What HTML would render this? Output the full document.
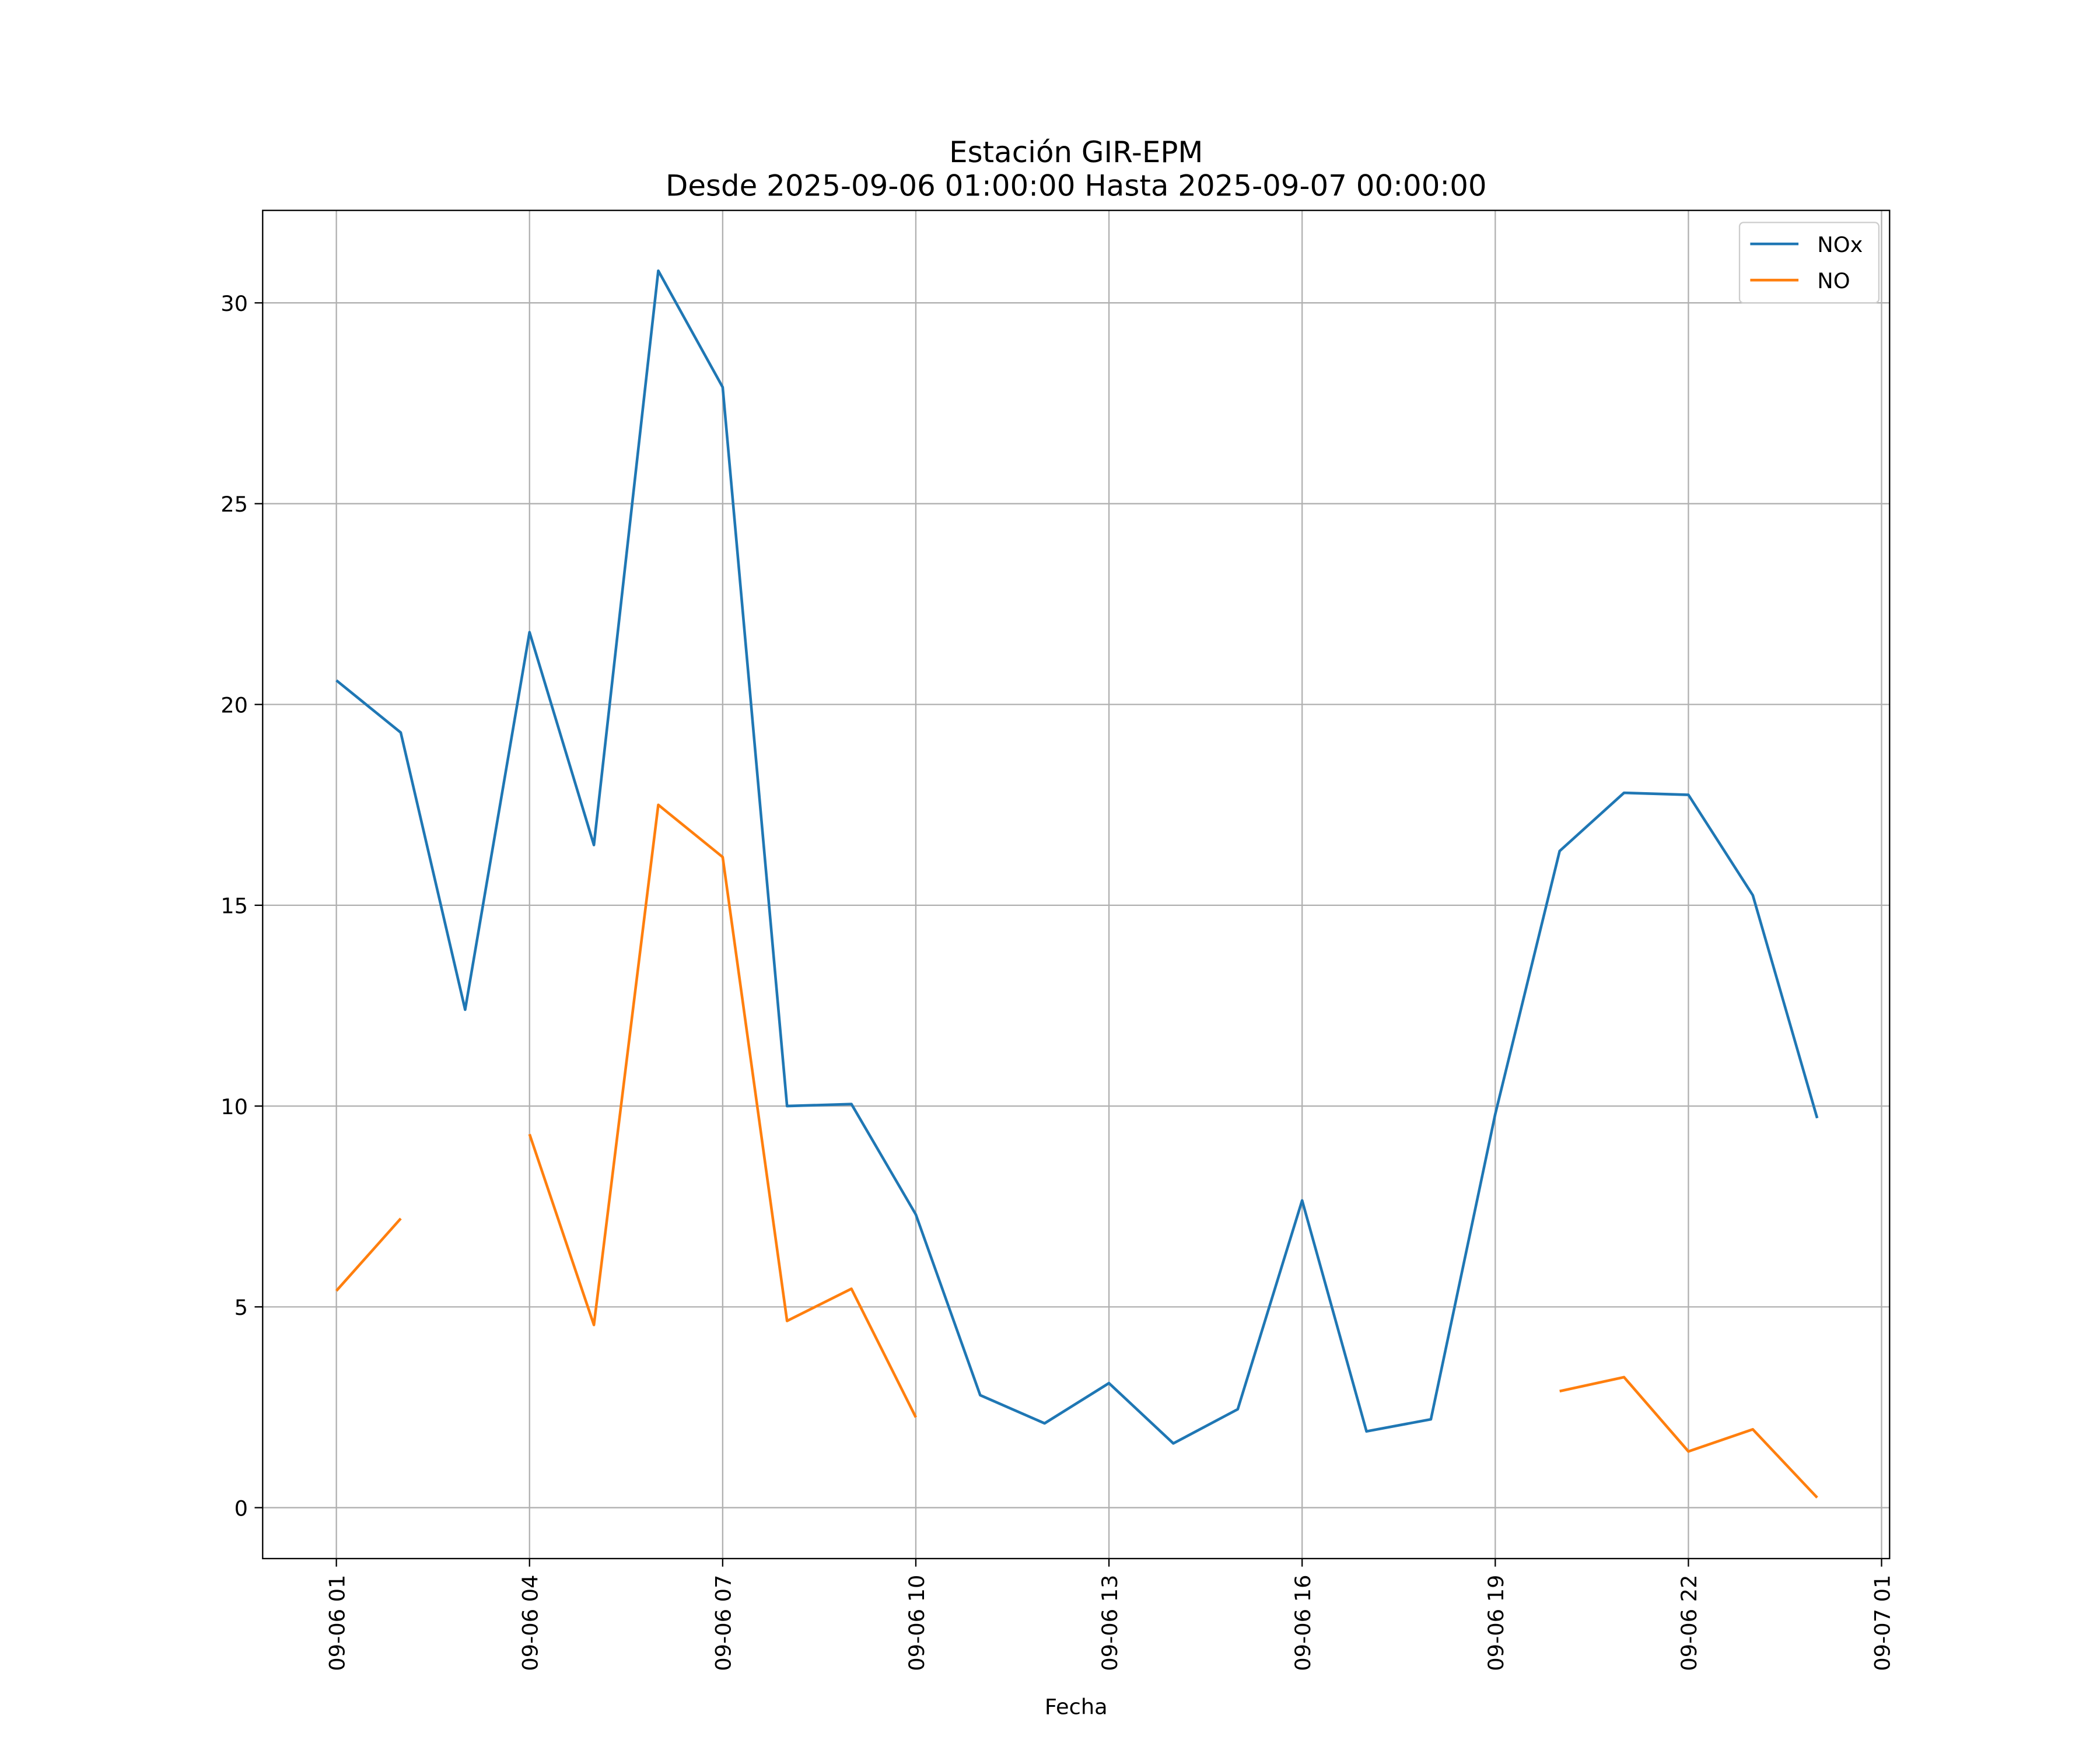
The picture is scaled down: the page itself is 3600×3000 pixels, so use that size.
<!DOCTYPE html>
<html><head><meta charset="utf-8">
<style>
html,body{margin:0;padding:0;background:#fff;}
svg{display:block;}
text{font-family:"DejaVu Sans","Liberation Sans",sans-serif;fill:#000;}
</style></head>
<body>
<svg id="chart" width="3600" height="3000" viewBox="0 0 1567 1305.83" preserveAspectRatio="none" xmlns="http://www.w3.org/2000/svg">
<rect x="0" y="0" width="1567" height="1306" fill="#fff"/>
<g id="grid"></g>
<g id="series"></g>
<rect x="196" y="157" width="1214" height="1006" fill="none" stroke="#000" stroke-width="1"/>
<g id="ticks"></g>
<text x="803" y="121" font-size="21.7" text-anchor="middle">Estación GIR-EPM</text>
<text x="803" y="146" font-size="21.7" text-anchor="middle">Desde 2025-09-06 01:00:00 Hasta 2025-09-07 00:00:00</text>
<text x="803" y="1279" font-size="16" text-anchor="middle">Fecha</text>
<g>
<rect x="1298" y="166" width="104" height="60" rx="3" fill="#fff" stroke="#ccc" stroke-width="1"/>
<line x1="1306" y1="182" x2="1342" y2="182" stroke="#1f77b4" stroke-width="2"/>
<text x="1356" y="188" font-size="16">NOx</text>
<line x1="1306" y1="209" x2="1342" y2="209" stroke="#ff7f0e" stroke-width="2"/>
<text x="1356" y="215" font-size="16">NO</text>
</g>
</svg>
<script>
const hours = [1,2,3,4,5,6,7,8,9,10,11,12,13,14,15,16,17,18,19,20,21,22,23,24];
const noxValues = [20.6,19.3,12.4,21.8,16.5,30.8,27.9,10.0,10.05,7.3,2.8,2.1,3.1,1.6,2.45,7.65,1.9,2.2,9.8,16.35,17.8,17.75,15.25,9.7];
const noValues = [5.4,7.2,null,9.3,4.55,17.5,16.2,4.65,5.45,2.25,null,null,null,null,null,null,null,null,null,2.9,3.25,1.4,1.95,0.25];
const yTicks = [0,5,10,15,20,25,30];
const xTickHours = [1,4,7,10,13,16,19,22,25];
const xTickLabels = ["09-06 01","09-06 04","09-06 07","09-06 10","09-06 13","09-06 16","09-06 19","09-06 22","09-07 01"];

const NS="http://www.w3.org/2000/svg";
function xS(h){return 251 + (h-1)*(1404-251)/24;}
function yS(v){return 1125 - v*(1125-226)/30;}
const grid=document.getElementById('grid'), ticks=document.getElementById('ticks'), ser=document.getElementById('series');
function mk(tag,attrs,parent){const e=document.createElementNS(NS,tag);for(const k in attrs)e.setAttribute(k,attrs[k]);parent.appendChild(e);return e;}

yTicks.forEach(v=>{
  const y=yS(v);
  const g=mk('line',{x1:196,x2:1410,y1:y,y2:y,stroke:'#b0b0b0','stroke-width':1},grid);
  
  
  mk('line',{x1:190,x2:196,y1:y,y2:y,stroke:'#000'},ticks);
  const t=mk('text',{x:185,y:y+6,'font-size':16,'text-anchor':'end'},ticks);
  t.textContent=v;
  
  
});
xTickHours.forEach((h,i)=>{
  const x=xS(h);
  const g=mk('line',{x1:x,x2:x,y1:157,y2:1163,stroke:'#b0b0b0','stroke-width':1},grid);
  
  
  mk('line',{x1:x,x2:x,y1:1163,y2:1169,stroke:'#000'},ticks);
  const t=mk('text',{x:x+6,y:1175,'font-size':16,'text-anchor':'end',transform:`rotate(-90 ${x+6} 1175)`},ticks);
  t.textContent=xTickLabels[i];
  
  
});
function drawSeries(vals,color,name){
  let d='',pen=false;
  vals.forEach((v,i)=>{
    if(v===null){pen=false;return;}
    d+=(pen?'L':'M')+xS(hours[i]).toFixed(2)+' '+yS(v).toFixed(2)+' ';
    pen=true;
  });
  const p=mk('path',{d:d,fill:'none',stroke:color,'stroke-width':2,'stroke-linejoin':'round'},ser);
  
  
}
drawSeries(noxValues,'#1f77b4','nox-line');
drawSeries(noValues,'#ff7f0e','no-line');
</script>
</body></html>
